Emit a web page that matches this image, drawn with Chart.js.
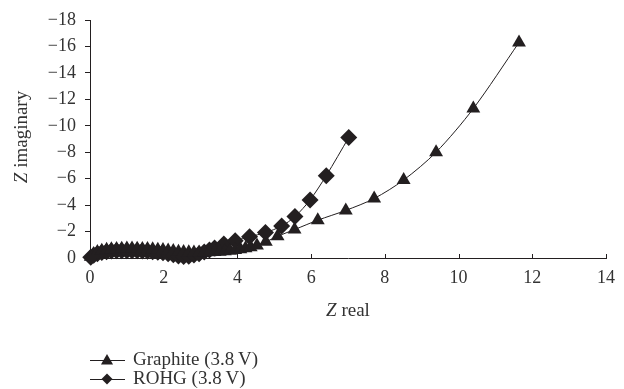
<!DOCTYPE html>
<html>
<head>
<meta charset="utf-8">
<script src="https://cdn.jsdelivr.net/npm/chart.js@4.4.0/dist/chart.umd.min.js"></script>
<style>
  html, body { margin: 0; padding: 0; background: #fff; }
  #wrap { width: 624px; height: 389px; }
</style>
</head>
<body>
<div id="wrap"><canvas id="nyquist"></canvas></div>
<script>
// Nyquist data (Z real, Z imaginary)
const graphiteRe = [0.02, 0.1, 0.2, 0.32, 0.45, 0.58, 0.72, 0.86, 1.0, 1.14, 1.28, 1.42, 1.56, 1.7, 1.84, 1.98, 2.12, 2.26, 2.4, 2.54, 2.68, 2.82, 2.96, 3.1, 3.24, 3.38, 3.52, 3.66, 3.8, 3.94, 4.08, 4.22, 4.36, 4.53, 4.77, 5.09, 5.55, 6.18, 6.94, 7.71, 8.51, 9.39, 10.4, 11.64];
const graphiteIm = [-0.1, -0.3, -0.45, -0.55, -0.62, -0.66, -0.69, -0.7, -0.71, -0.71, -0.7, -0.69, -0.68, -0.66, -0.63, -0.6, -0.56, -0.52, -0.48, -0.45, -0.43, -0.42, -0.42, -0.43, -0.44, -0.46, -0.48, -0.51, -0.55, -0.6, -0.66, -0.73, -0.82, -0.95, -1.22, -1.64, -2.15, -2.86, -3.6, -4.5, -5.9, -8.0, -11.3, -16.3];
const rohgRe = [0.02, 0.1, 0.2, 0.32, 0.45, 0.58, 0.72, 0.86, 1.0, 1.14, 1.28, 1.42, 1.56, 1.7, 1.84, 1.98, 2.12, 2.26, 2.4, 2.54, 2.68, 2.82, 2.96, 3.1, 3.24, 3.38, 3.63, 3.94, 4.33, 4.76, 5.2, 5.56, 5.97, 6.41, 7.02];
const rohgIm = [-0.05, -0.2, -0.32, -0.42, -0.48, -0.52, -0.54, -0.55, -0.55, -0.55, -0.54, -0.53, -0.51, -0.48, -0.44, -0.39, -0.32, -0.24, -0.16, -0.12, -0.14, -0.22, -0.33, -0.46, -0.6, -0.76, -1.06, -1.31, -1.61, -1.92, -2.42, -3.13, -4.39, -6.23, -9.11];
const xTicks = [0, 2, 4, 6, 8, 10, 12, 14];
const yTicks = [0, -2, -4, -6, -8, -10, -12, -14, -16, -18];
const seriesNames = ['Graphite (3.8\u2009V)', 'ROHG (3.8\u2009V)'];

const ink = '#231f20';
const serif = '"Liberation Serif", "DejaVu Serif", serif';
const textSize = 19;

function toPoints(xs, ys) {
    return xs.map((x, i) => ({ x: x, y: ys[i] }));
}

// text with an italic Z in front
function drawZLabel(ctx, rest, cx, cy) {
    ctx.font = 'italic ' + textSize + 'px ' + serif;
    const wz = ctx.measureText('Z').width;
    ctx.font = textSize + 'px ' + serif;
    const wr = ctx.measureText(rest).width;
    let left = cx - (wz + wr) / 2;
    ctx.textAlign = 'left';
    ctx.textBaseline = 'middle';
    ctx.font = 'italic ' + textSize + 'px ' + serif;
    ctx.fillText('Z', left, cy);
    ctx.font = textSize + 'px ' + serif;
    ctx.fillText(rest, left + wz, cy);
}

function marker(ctx, style, x, y, r) {
    ctx.beginPath();
    if (style === 'triangle') {
        ctx.moveTo(x, y - r);
        ctx.lineTo(x + r * 0.866, y + r / 2);
        ctx.lineTo(x - r * 0.866, y + r / 2);
    } else {
        ctx.moveTo(x, y - r);
        ctx.lineTo(x + r, y);
        ctx.lineTo(x, y + r);
        ctx.lineTo(x - r, y);
    }
    ctx.closePath();
    ctx.fill();
}

const decorations = {
    id: 'decorations',
    afterDraw(chart) {
        const ctx = chart.ctx;
        const xs = chart.scales.x;
        const area = chart.chartArea;
        ctx.save();
        ctx.strokeStyle = ink;
        ctx.fillStyle = ink;
        ctx.lineWidth = 1;
        // x ticks point inward
        xTicks.forEach(v => {
            const px = Math.round(xs.getPixelForValue(v)) + 0.5;
            ctx.beginPath();
            ctx.moveTo(px, area.bottom);
            ctx.lineTo(px, area.bottom - 4);
            ctx.stroke();
        });
        // axis titles
        ctx.fillStyle = '#333';
        drawZLabel(ctx, ' real', (area.left + area.right) / 2, 311);
        ctx.save();
        ctx.translate(22, 137);
        ctx.rotate(-Math.PI / 2);
        drawZLabel(ctx, ' imaginary', 0, 0);
        ctx.restore();
        // legend
        const styles = ['triangle', 'rectRot'];
        const rows = [360, 379];
        seriesNames.forEach((name, i) => {
            const y = rows[i];
            ctx.strokeStyle = ink;
            ctx.fillStyle = ink;
            ctx.beginPath();
            ctx.moveTo(90, y + 0.5);
            ctx.lineTo(125, y + 0.5);
            ctx.stroke();
            marker(ctx, styles[i], 107, i === 0 ? y + 1 : y, i === 0 ? 7 : 5.5);
            ctx.fillStyle = '#333';
            ctx.font = textSize + 'px ' + serif;
            ctx.textAlign = 'left';
            ctx.textBaseline = 'middle';
            ctx.fillText(name, 133, y);
        });
        ctx.restore();
    }
};

const ctx = document.getElementById('nyquist').getContext('2d');
const nyquistChart = new Chart(ctx, {
    type: 'scatter',
    data: {
        datasets: [{
            label: seriesNames[0],
            data: toPoints(graphiteRe, graphiteIm),
            showLine: true,
            tension: 0.3,
            borderColor: ink,
            borderWidth: 1,
            backgroundColor: ink,
            pointStyle: 'triangle',
            pointRadius: 8,
            pointBorderWidth: 0,
            clip: false
        }, {
            label: seriesNames[1],
            data: toPoints(rohgRe, rohgIm),
            showLine: true,
            tension: 0.3,
            borderColor: ink,
            borderWidth: 1,
            backgroundColor: ink,
            pointStyle: 'rectRot',
            pointRadius: 8.5,
            pointBorderWidth: 0,
            clip: false
        }]
    },
    options: {
        responsive: true,
        maintainAspectRatio: false,
        animation: false,
        layout: { padding: { top: 20, right: 12, left: 0, bottom: 0 } },
        plugins: {
            legend: { display: false },
            tooltip: { enabled: false }
        },
        scales: {
            x: {
                type: 'linear',
                min: 0,
                max: 14,
                afterBuildTicks: (scale) => { scale.ticks = xTicks.map(v => ({ value: v })); },
                afterFit: (scale) => { scale.height = 131; },
                grid: { display: false, drawTicks: false },
                border: { display: true, color: ink, width: 1 },
                ticks: {
                    color: '#333',
                    padding: 9,
                    maxRotation: 0,
                    font: { family: serif, size: 18 },
                    callback: (v) => String(v)
                }
            },
            y: {
                type: 'linear',
                min: -18,
                max: 0,
                reverse: true,
                afterBuildTicks: (scale) => { scale.ticks = yTicks.map(v => ({ value: v })); },
                afterFit: (scale) => { scale.width = 90; },
                grid: { display: true, drawOnChartArea: false, drawTicks: true, tickLength: 5, color: ink },
                border: { display: true, color: ink, width: 1 },
                ticks: {
                    color: '#333',
                    padding: 9,
                    font: { family: serif, size: 18 },
                    callback: (v) => v === 0 ? '0' : '\u2212' + Math.abs(v)
                }
            }
        }
    },
    plugins: [decorations]
});
</script>
</body>
</html>
